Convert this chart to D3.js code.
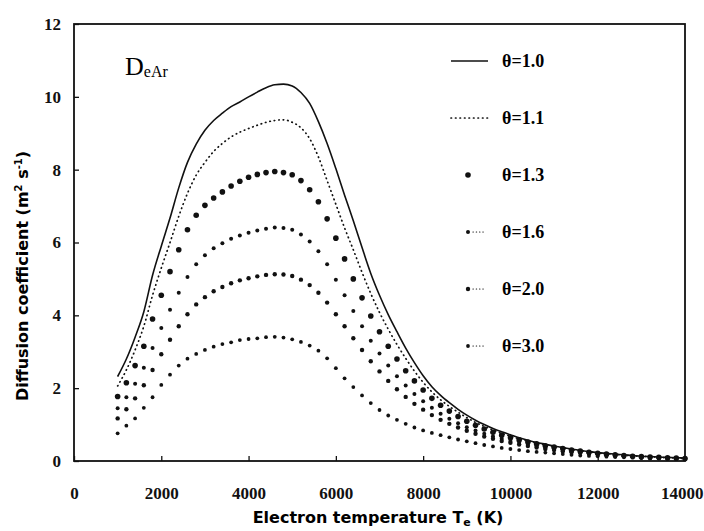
<!DOCTYPE html>
<html>
<head>
<meta charset="utf-8">
<script src="https://cdn.jsdelivr.net/npm/d3@7/dist/d3.min.js"></script>
<style>
  body { margin: 0; background: #fff; }
</style>
</head>
<body>
<div id="chart"></div>
<script>
// electron temperature (K), one point every 200 K
var temps = [1000, 1200, 1400, 1600, 1800, 2000, 2200, 2400, 2600, 2800,
    3000, 3200, 3400, 3600, 3800, 4000, 4200, 4400, 4600, 4800,
    5000, 5200, 5400, 5600, 5800, 6000, 6200, 6400, 6600, 6800,
    7000, 7200, 7400, 7600, 7800, 8000, 8200, 8400, 8600, 8800,
    9000, 9200, 9400, 9600, 9800, 10000, 10200, 10400, 10600, 10800,
    11000, 11200, 11400, 11600, 11800, 12000, 12200, 12400, 12600, 12800,
    13000, 13200, 13400, 13600, 13800, 14000];

// diffusion coefficient D_eAr (m2/s)
var theta10 = [2.32, 2.8, 3.4, 4.1, 5.1, 5.9, 6.67, 7.5, 8.2, 8.7,
    9.08, 9.35, 9.55, 9.73, 9.86, 10.0, 10.13, 10.25, 10.33, 10.35,
    10.3, 10.12, 9.82, 9.32, 8.72, 8.03, 7.3, 6.6, 5.86, 5.15,
    4.55, 4.02, 3.55, 3.1, 2.7, 2.34, 2.04, 1.8, 1.6, 1.42,
    1.26, 1.12, 1.0, 0.89, 0.8, 0.72, 0.64, 0.57, 0.51, 0.46,
    0.41, 0.37, 0.33, 0.29, 0.26, 0.23, 0.21, 0.19, 0.17, 0.15,
    0.13, 0.12, 0.11, 0.10, 0.09, 0.08];
var theta11 = [2.06, 2.5, 3.05, 3.7, 4.55, 5.3, 6.0, 6.72, 7.35, 7.85,
    8.2, 8.5, 8.72, 8.9, 9.03, 9.13, 9.22, 9.3, 9.35, 9.37,
    9.3, 9.15, 8.85, 8.35, 7.7, 7.05, 6.4, 5.8, 5.18, 4.6,
    4.08, 3.62, 3.2, 2.82, 2.47, 2.16, 1.9, 1.68, 1.5, 1.34,
    1.19, 1.06, 0.95, 0.85, 0.76, 0.68, 0.61, 0.55, 0.49, 0.44,
    0.4, 0.36, 0.32, 0.28, 0.25, 0.22, 0.2, 0.18, 0.16, 0.14,
    0.13, 0.12, 0.1, 0.09, 0.08, 0.07];
var theta13 = [1.77, 2.15, 2.62, 3.15, 3.9, 4.55, 5.2, 5.8, 6.35, 6.75,
    7.02, 7.22, 7.39, 7.55, 7.68, 7.79, 7.87, 7.92, 7.95, 7.92,
    7.86, 7.7, 7.45, 7.12, 6.65, 6.12, 5.55, 5.0, 4.48, 3.98,
    3.55, 3.15, 2.8, 2.48, 2.2, 1.95, 1.72, 1.53, 1.37, 1.22,
    1.09, 0.98, 0.88, 0.79, 0.71, 0.64, 0.58, 0.52, 0.47, 0.42,
    0.38, 0.34, 0.3, 0.27, 0.24, 0.21, 0.19, 0.17, 0.15, 0.13,
    0.12, 0.11, 0.1, 0.09, 0.08, 0.07];
var theta16 = [1.45, 1.75, 2.12, 2.56, 3.1, 3.65, 4.15, 4.62, 5.05, 5.4,
    5.65, 5.84, 5.98, 6.1, 6.19, 6.27, 6.33, 6.38, 6.41, 6.4,
    6.35, 6.22, 6.03, 5.76, 5.4, 4.98, 4.55, 4.12, 3.7, 3.3,
    2.95, 2.62, 2.33, 2.07, 1.84, 1.64, 1.46, 1.3, 1.16, 1.04,
    0.93, 0.84, 0.75, 0.68, 0.61, 0.55, 0.5, 0.45, 0.4, 0.36,
    0.33, 0.3, 0.27, 0.24, 0.21, 0.19, 0.17, 0.15, 0.14, 0.12,
    0.11, 0.1, 0.09, 0.08, 0.07, 0.06];
var theta20 = [1.17, 1.42, 1.72, 2.08, 2.5, 2.93, 3.33, 3.7, 4.03, 4.3,
    4.5, 4.66, 4.78, 4.88, 4.96, 5.02, 5.07, 5.11, 5.13, 5.12,
    5.08, 4.98, 4.83, 4.62, 4.35, 4.03, 3.7, 3.37, 3.05, 2.74,
    2.46, 2.2, 1.97, 1.76, 1.57, 1.41, 1.26, 1.13, 1.02, 0.92,
    0.83, 0.75, 0.67, 0.61, 0.55, 0.5, 0.45, 0.41, 0.37, 0.33,
    0.3, 0.27, 0.24, 0.22, 0.2, 0.18, 0.16, 0.14, 0.13, 0.12,
    0.1, 0.09, 0.08, 0.07, 0.06, 0.06];
var theta30 = [0.76, 0.97, 1.17, 1.46, 1.75, 2.09, 2.37, 2.62, 2.81, 2.94,
    3.05, 3.14, 3.21, 3.26, 3.32, 3.35, 3.37, 3.4, 3.41, 3.39,
    3.34, 3.27, 3.17, 3.03, 2.82, 2.55, 2.27, 2.03, 1.8, 1.59,
    1.4, 1.25, 1.13, 1.02, 0.92, 0.84, 0.77, 0.71, 0.65, 0.59,
    0.54, 0.49, 0.44, 0.4, 0.36, 0.33, 0.3, 0.27, 0.25, 0.23,
    0.21, 0.19, 0.17, 0.15, 0.14, 0.13, 0.12, 0.11, 0.1, 0.09,
    0.08, 0.07, 0.07, 0.06, 0.05, 0.05];

var thetaLabels = ["θ=1.0", "θ=1.1", "θ=1.3", "θ=1.6", "θ=2.0", "θ=3.0"];
var xTicks = [0, 2000, 4000, 6000, 8000, 10000, 12000, 14000];
var yTicks = [0, 2, 4, 6, 8, 10, 12];

// cara gambar tiap seri: garis, garis titik-titik, atau titik
var series = [
    { values: theta10, kind: "line" },
    { values: theta11, kind: "dotted" },
    { values: theta13, kind: "dots", r: 2.8 },
    { values: theta16, kind: "dots", r: 2.0 },
    { values: theta20, kind: "dots", r: 2.2 },
    { values: theta30, kind: "dots", r: 1.9 }
];

var margin = { top: 24, right: 19, bottom: 70, left: 74 };
var width = 704 - margin.left - margin.right;
var height = 531 - margin.top - margin.bottom;

var svg = d3.select("#chart").append("svg")
    .attr("width", 704)
    .attr("height", 531)
    .append("g")
    .attr("transform", "translate(" + margin.left + "," + margin.top + ")");

var x = d3.scaleLinear().domain([0, 14000]).range([0, width]);
var y = d3.scaleLinear().domain([0, 12]).range([height, 0]);

// sumbu dengan tick ke dalam
var xAxis = svg.append("g")
    .attr("transform", "translate(0," + height + ")")
    .call(d3.axisBottom(x).tickValues(xTicks).tickFormat(d3.format("d"))
        .tickSizeInner(-5).tickSizeOuter(0).tickPadding(26));
var yAxis = svg.append("g")
    .call(d3.axisLeft(y).tickValues(yTicks).tickFormat(d3.format("d"))
        .tickSizeInner(-5).tickSizeOuter(0).tickPadding(13));

[xAxis, yAxis].forEach(function (g) {
    g.select(".domain").remove();
    g.selectAll(".tick line").attr("stroke", "#111").attr("stroke-width", 1.3);
    g.selectAll(".tick text")
        .attr("fill", "#111")
        .style("font-family", "'Liberation Serif', serif")
        .style("font-weight", "bold")
        .style("font-size", "17px");
});

// label terakhir mepet ke tepi kanan
xAxis.selectAll(".tick text")
    .filter(function (d) { return d === 14000; })
    .attr("text-anchor", "end")
    .attr("x", margin.right - 1);

// bingkai
svg.append("rect")
    .attr("width", width)
    .attr("height", height)
    .attr("fill", "none")
    .attr("stroke", "#111")
    .attr("stroke-width", 1.8);

var line = d3.line()
    .x(function (d, i) { return x(temps[i]); })
    .y(function (d) { return y(d); })
    .curve(d3.curveMonotoneX);

series.forEach(function (s) {
    if (s.kind === "line") {
        svg.append("path")
            .datum(s.values)
            .attr("fill", "none")
            .attr("stroke", "#111")
            .attr("stroke-width", 1.6)
            .attr("d", line);
    } else if (s.kind === "dotted") {
        svg.append("path")
            .datum(s.values)
            .attr("fill", "none")
            .attr("stroke", "#111")
            .attr("stroke-width", 1.7)
            .attr("stroke-linecap", "round")
            .attr("stroke-dasharray", "0.5,4")
            .attr("d", line);
    } else {
        svg.append("g").selectAll("circle")
            .data(s.values)
            .enter().append("circle")
            .attr("cx", function (d, i) { return x(temps[i]); })
            .attr("cy", function (d) { return y(d); })
            .attr("r", s.r)
            .attr("fill", "#111");
    }
});

// legenda
var legend = svg.append("g").attr("transform", "translate(" + (-margin.left) + "," + (-margin.top) + ")");
series.forEach(function (s, i) {
    var ly = 61 + i * 57;
    var row = legend.append("g").attr("transform", "translate(0," + ly + ")");
    if (s.kind === "line") {
        row.append("line").attr("x1", 451).attr("x2", 488)
            .attr("stroke", "#111").attr("stroke-width", 1.6);
    } else if (s.kind === "dotted") {
        row.append("line").attr("x1", 451).attr("x2", 488)
            .attr("stroke", "#111").attr("stroke-width", 1.7)
            .attr("stroke-linecap", "round").attr("stroke-dasharray", "0.5,4");
    } else {
        row.append("circle").attr("cx", 468).attr("r", s.r).attr("fill", "#111");
        if (i > 2) {
            row.append("line").attr("x1", 473).attr("x2", 484)
                .attr("stroke", "#111").attr("stroke-width", 1.2)
                .attr("stroke-linecap", "round").attr("stroke-dasharray", "0.3,3");
        }
    }
    row.append("text")
        .attr("x", 502)
        .attr("dy", "0.35em")
        .style("font-family", "'Liberation Serif', serif")
        .style("font-weight", "bold")
        .style("font-size", "18px")
        .text(thetaLabels[i]);
});

// label D_eAr
var dlabel = svg.append("text")
    .attr("x", 125 - margin.left)
    .attr("y", 75 - margin.top)
    .style("font-family", "'Liberation Serif', serif")
    .style("font-size", "26px")
    .text("D");
dlabel.append("tspan")
    .attr("dy", 2)
    .style("font-size", "16px")
    .text("eAr");

// judul sumbu x
var xTitle = svg.append("text")
    .attr("x", 378 - margin.left)
    .attr("y", 523 - margin.top)
    .attr("text-anchor", "middle")
    .style("font-family", "'DejaVu Sans', sans-serif")
    .style("font-weight", "bold")
    .style("font-size", "16px")
    .text("Electron temperature T");
xTitle.append("tspan").attr("dy", 3).style("font-size", "11px").text("e");
xTitle.append("tspan").attr("dy", -3).text(" (K)");

// judul sumbu y
var yTitle = svg.append("text")
    .attr("transform", "translate(" + (28 - margin.left) + "," + (276 - margin.top) + ") rotate(-90)")
    .attr("text-anchor", "middle")
    .style("font-family", "'DejaVu Sans', sans-serif")
    .style("font-weight", "bold")
    .style("font-size", "16px")
    .text("Diffusion coefficient (m");
yTitle.append("tspan").attr("dy", -6).style("font-size", "10px").text("2");
yTitle.append("tspan").attr("dy", 6).text(" s");
yTitle.append("tspan").attr("dy", -6).style("font-size", "10px").text("-1");
yTitle.append("tspan").attr("dy", 6).text(")");
</script>
</body>
</html>
